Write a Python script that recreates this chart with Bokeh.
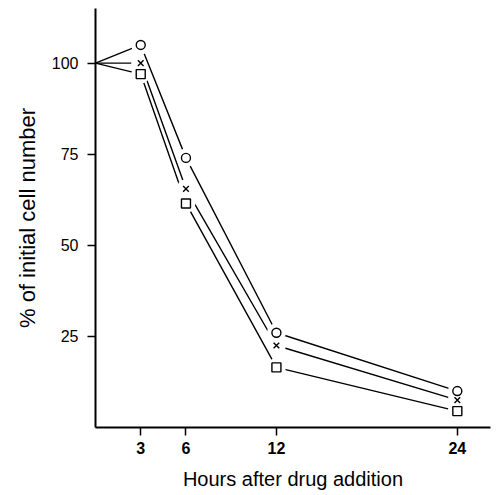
from bokeh.plotting import figure
from bokeh.models import Range1d, FixedTicker
from bokeh.embed import file_html
from bokeh.resources import INLINE

# Data
hours = [0, 3, 6, 12, 24]
circle_vals = [100, 105, 74, 26, 10]
cross_vals = [100, 100, 65.5, 22.5, 7.5]
square_vals = [100, 97, 61.5, 16.5, 4.5]
x_ticks = [3, 6, 12, 24]
y_ticks = [25, 50, 75, 100]

FONT = "Liberation Sans"

p = figure(width=492, height=493, output_backend="svg", toolbar_location=None,
           x_range=Range1d(0, 26.2), y_range=Range1d(0, 115),
           min_border_left=95, min_border_right=2, min_border_top=8, min_border_bottom=66)
p.outline_line_color = None
p.grid.visible = False
p.background_fill_color = "white"

for ax in (p.xaxis[0], p.yaxis[0]):
    ax.axis_line_width = 2
    ax.axis_line_color = "black"
    ax.major_tick_line_width = 1.5
    ax.major_tick_line_color = "black"
    ax.major_tick_out = 8
    ax.major_tick_in = 0
    ax.minor_tick_line_color = None
    ax.axis_label_text_font = FONT
    ax.axis_label_text_font_style = "normal"
    ax.axis_label_text_color = "black"
    ax.major_label_text_font = FONT
    ax.major_label_text_color = "black"

p.xaxis.ticker = FixedTicker(ticks=x_ticks)
p.yaxis.ticker = FixedTicker(ticks=y_ticks)
p.xaxis.major_label_text_font_size = "16px"
p.xaxis.major_label_text_font_style = "bold"
p.yaxis.major_label_text_font_size = "16px"
p.xaxis.major_label_standoff = 6
p.yaxis.major_label_standoff = 9
p.xaxis.axis_label = "Hours after drug addition"
p.yaxis.axis_label = "% of initial cell number"
p.xaxis.axis_label_text_font_size = "20px"
p.yaxis.axis_label_text_font_size = "22px"
p.xaxis.axis_label_standoff = 11
p.yaxis.axis_label_standoff = 9

lw = 1.4
mask = 19
# x and square series lines, then their masks
p.line(hours, cross_vals, line_color="black", line_width=lw)
p.line(hours, square_vals, line_color="black", line_width=lw)
p.scatter(hours[1:], cross_vals[1:], marker="circle", size=mask, fill_color="white", line_color=None)
p.scatter(hours[1:], square_vals[1:], marker="circle", size=mask, fill_color="white", line_color=None)
# circle series line and its mask
p.line(hours, circle_vals, line_color="black", line_width=lw)
p.scatter(hours[1:], circle_vals[1:], marker="circle", size=mask, fill_color="white", line_color=None)

# markers
p.scatter(hours[1:], circle_vals[1:], marker="circle", size=9, fill_color="white",
          line_color="black", line_width=1.4)
p.scatter(hours[1:], cross_vals[1:], marker="x", size=8, line_color="black", line_width=1.4)
p.scatter(hours[1:], square_vals[1:], marker="square", size=9, fill_color="white",
          line_color="black", line_width=1.4)

open("out.html", "w").write(file_html(p, INLINE))
